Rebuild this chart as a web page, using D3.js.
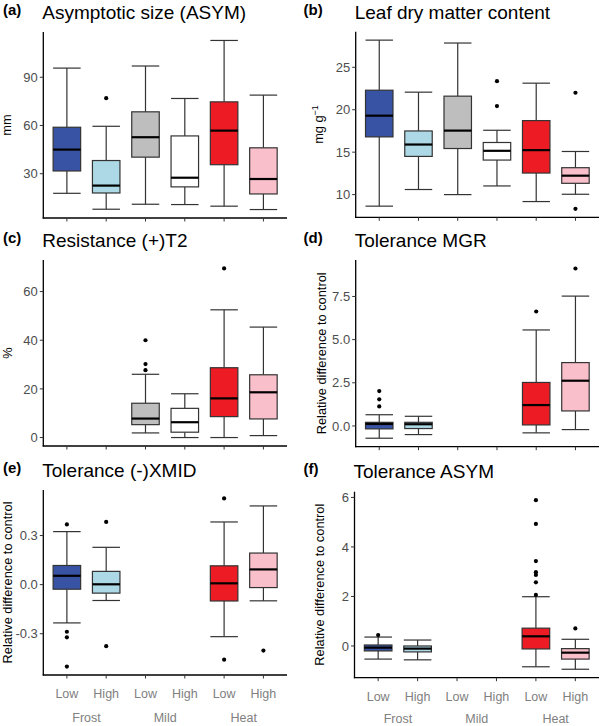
<!DOCTYPE html>
<html><head><meta charset="utf-8">
<script src="https://cdn.jsdelivr.net/npm/d3@7"></script>
<style>
body{margin:0;background:#fff}
svg{display:block}
text{font-family:"Liberation Sans",Arial,Helvetica,sans-serif}
</style>
</head><body>
<svg id="chart" width="600" height="726"></svg>
<script>
// ---------- DATA ----------
const groups = ["Frost", "Mild", "Heat"];
const levels = ["Low", "High"];
const categories = ["Frost.Low", "Frost.High", "Mild.Low", "Mild.High", "Heat.Low", "Heat.High"];
const fills = ["#3953a4", "#add8e6", "#bebebe", "#ffffff", "#ed1c24", "#f9bfcb"];

// box stats per category: [lower whisker, Q1, median, Q3, upper whisker]
const asymStats = [[17.8,31.7,45,58.9,95.7],[7.9,18,22.6,38.2,59.5],[11,40.3,52.7,68.5,97],[10.8,21.8,27.5,53.5,76.8],[9.8,35.6,56.8,74.7,112.9],[7.7,17.4,26.7,46.1,78.9]];
const asymOutliers = [[],[77],[],[],[],[]];
const asymTicks = [30, 60, 90];

const ldmcStats = [[8.64,16.8,19.3,22.3,28.2],[10.6,14.5,15.9,17.5,22.07],[10,15.43,17.54,21.6,27.86],[11.02,14.07,15.16,16.14,17.58],[9.18,12.54,15.24,18.72,23.13],[10.04,11.33,12.23,13.17,15.08]];
const ldmcOutliers = [[],[],[],[20.43,23.36],[],[8.32,22.0]];
const ldmcTicks = [10, 15, 20, 25];

const resT2Stats = [null,null,[1.9,5.3,7.8,14.1,26],[0,2.2,6.3,12,18],[0,8.6,16.1,28.7,52.5],[0.8,7.65,18.6,25.8,45.4]];
const resT2Outliers = [[],[],[27.7,30.2,40],[],[69.5],[]];
const resT2Ticks = [0, 20, 40, 60];

const mgrStats = [[-0.71,-0.17,0.115,0.21,0.65],[-0.5,-0.15,0.1,0.21,0.56],null,null,[-0.4,0.06,1.21,2.52,5.56],[-0.21,0.87,2.62,3.67,7.52]];
const mgrOutliers = [[1.13,1.54,2.02],[],[],[],[6.63],[9.12]];
const mgrTicks = [0, 2.5, 5, 7.5];

const xmidStats = [[-0.234,-0.028,0.054,0.117,0.324],[-0.097,-0.052,0.002,0.081,0.228],null,null,[-0.318,-0.10,0.008,0.115,0.383],[-0.099,-0.018,0.093,0.193,0.481]];
const xmidOutliers = [[0.368,-0.288,-0.322,-0.501],[0.383,-0.376],[],[],[0.527,-0.459],[-0.403]];
const xmidTicks = [-0.3, 0, 0.3];

const tolAsymStats = [[-0.53,-0.2,-0.067,0.04,0.36],[-0.56,-0.24,-0.107,0.0,0.24],null,null,[-0.84,-0.12,0.39,0.72,1.99],[-0.94,-0.53,-0.27,-0.107,0.27]];
const tolAsymOutliers = [[0.44],[],[],[],[2.06,2.57,2.87,2.98,3.43,4.93,5.89],[0.71]];
const tolAsymTicks = [0, 2, 4, 6];

const tags = ["(a)", "(b)", "(c)", "(d)", "(e)", "(f)"];
const titles = ["Asymptotic size (ASYM)", "Leaf dry matter content", "Resistance (+)T2", "Tolerance MGR", "Tolerance (-)XMID", "Tolerance ASYM"];
const yTitles = ["mm", "mg g", "%", "Relative difference to control", "Relative difference to control", "Relative difference to control"];

// ---------- LAYOUT ----------
const panels = [
  {stats: asymStats, out: asymOutliers, ticks: asymTicks, fmt: d3.format("d"),
   x0: 43.3, x1: 287, y0: 32, y1: 218, tagY: 14.5, titleY: 18.5, ylabX: 10.5},
  {stats: ldmcStats, out: ldmcOutliers, ticks: ldmcTicks, fmt: d3.format("d"),
   x0: 355.7, x1: 599, y0: 31.7, y1: 217.3, tagY: 14.5, titleY: 18.5, ylabX: 322.5, sup: "−1"},
  {stats: resT2Stats, out: resT2Outliers, ticks: resT2Ticks, fmt: d3.format("d"),
   x0: 43.3, x1: 287, y0: 260, y1: 446, tagY: 242.5, titleY: 246.7, ylabX: 12},
  {stats: mgrStats, out: mgrOutliers, ticks: mgrTicks, fmt: d3.format(".1f"),
   x0: 355.7, x1: 599, y0: 260, y1: 446.7, tagY: 242.5, titleY: 246.7, ylabX: 326},
  {stats: xmidStats, out: xmidOutliers, ticks: xmidTicks, fmt: d => d3.format(".1f")(d).replace("−","-"),
   x0: 43.3, x1: 287, y0: 490, y1: 675, tagY: 473, titleY: 477.3, ylabX: 11.7, xlabels: true, grpY: 722},
  {stats: tolAsymStats, out: tolAsymOutliers, ticks: tolAsymTicks, fmt: d3.format("d"),
   x0: 354.5, x1: 599, y0: 491.7, y1: 677.7, tagY: 474, titleY: 478.3, ylabX: 324, xlabels: true, grpY: 723}
];

const svg = d3.select("#chart");
const tickCol = "#333333", labCol = "#4d4d4d", xLabCol = "#808080";

panels.forEach((p, i) => {
  const g = svg.append("g");
  const x = d3.scalePoint().domain(categories).range([p.x0, p.x1]).padding(0.6);
  const vals = [];
  p.stats.forEach((s, k) => { if (s) vals.push(...s); vals.push(...p.out[k]); });
  const ext = d3.extent(vals);
  const pad = (ext[1] - ext[0]) * 0.05;
  const y = d3.scaleLinear().domain([ext[0] - pad, ext[1] + pad]).range([p.y1, p.y0]);
  const bw = x.step() * 0.7;

  // boxes
  categories.forEach((c, k) => {
    const s = p.stats[k];
    if (!s) return;
    const cx = x(c);
    const [lo, q1, med, q3, hi] = s;
    g.append("line").attr("x1", cx).attr("x2", cx).attr("y1", y(q3)).attr("y2", y(hi))
      .attr("stroke", tickCol).attr("stroke-width", 1.2);
    g.append("line").attr("x1", cx).attr("x2", cx).attr("y1", y(q1)).attr("y2", y(lo))
      .attr("stroke", tickCol).attr("stroke-width", 1.2);
    [lo, hi].forEach(v => g.append("line").attr("x1", cx - bw/2).attr("x2", cx + bw/2)
      .attr("y1", y(v)).attr("y2", y(v)).attr("stroke", tickCol).attr("stroke-width", 1.2));
    g.append("rect").attr("x", cx - bw/2).attr("width", bw)
      .attr("y", y(q3)).attr("height", y(q1) - y(q3))
      .attr("fill", fills[k]).attr("stroke", tickCol).attr("stroke-width", 1.2);
    g.append("line").attr("x1", cx - bw/2).attr("x2", cx + bw/2).attr("y1", y(med)).attr("y2", y(med))
      .attr("stroke", "#000").attr("stroke-width", 2.2);
  });
  // outliers
  categories.forEach((c, k) => {
    p.out[k].forEach(v => g.append("circle").attr("cx", x(c)).attr("cy", y(v)).attr("r", 2.1).attr("fill", "#000"));
  });

  // axes lines
  g.append("line").attr("x1", p.x0).attr("x2", p.x0).attr("y1", p.y0).attr("y2", p.y1 + 0.6)
    .attr("stroke", "#000").attr("stroke-width", 1.3);
  g.append("line").attr("x1", p.x0 - 0.6).attr("x2", p.x1).attr("y1", p.y1).attr("y2", p.y1)
    .attr("stroke", "#000").attr("stroke-width", 1.3);
  // y ticks
  p.ticks.forEach(t => {
    g.append("line").attr("x1", p.x0 - 3.5).attr("x2", p.x0).attr("y1", y(t)).attr("y2", y(t))
      .attr("stroke", tickCol).attr("stroke-width", 1);
    g.append("text").attr("x", p.x0 - 5.5).attr("y", y(t)).attr("dy", "0.36em")
      .attr("text-anchor", "end").attr("font-size", 13).attr("fill", labCol).text(p.fmt(t));
  });
  // x ticks
  categories.forEach(c => {
    g.append("line").attr("x1", x(c)).attr("x2", x(c)).attr("y1", p.y1).attr("y2", p.y1 + 3.5)
      .attr("stroke", tickCol).attr("stroke-width", 1);
  });
  if (p.xlabels) {
    categories.forEach((c, k) => {
      g.append("text").attr("x", x(c)).attr("y", p.y1 + 23.3).attr("text-anchor", "middle")
        .attr("font-size", 12.5).attr("fill", xLabCol).text(levels[k % 2]);
    });
    groups.forEach((gr, j) => {
      const cx = (x(categories[2*j]) + x(categories[2*j+1])) / 2;
      g.append("text").attr("x", cx).attr("y", p.grpY).attr("text-anchor", "middle")
        .attr("font-size", 12.5).attr("fill", xLabCol).text(gr);
    });
  }
  // y title
  const yc = (p.y0 + p.y1) / 2;
  const yt = g.append("text").attr("transform", `translate(${p.ylabX},${yc}) rotate(-90)`)
    .attr("text-anchor", "middle").attr("font-size", 12.8).attr("fill", "#000").text(yTitles[i]);
  if (p.sup) yt.append("tspan").attr("dy", "-0.45em").attr("font-size", 9).text(p.sup);
  // tag & title
  g.append("text").attr("x", p.x0 < 100 ? 3 : 303.5).attr("y", p.tagY).attr("font-size", 15)
    .attr("font-weight", "bold").attr("fill", "#000").text(tags[i]);
  g.append("text").attr("x", p.x0 - 1).attr("y", p.titleY).attr("font-size", 19)
    .attr("fill", "#000").text(titles[i]);
});
</script>
</body></html>
